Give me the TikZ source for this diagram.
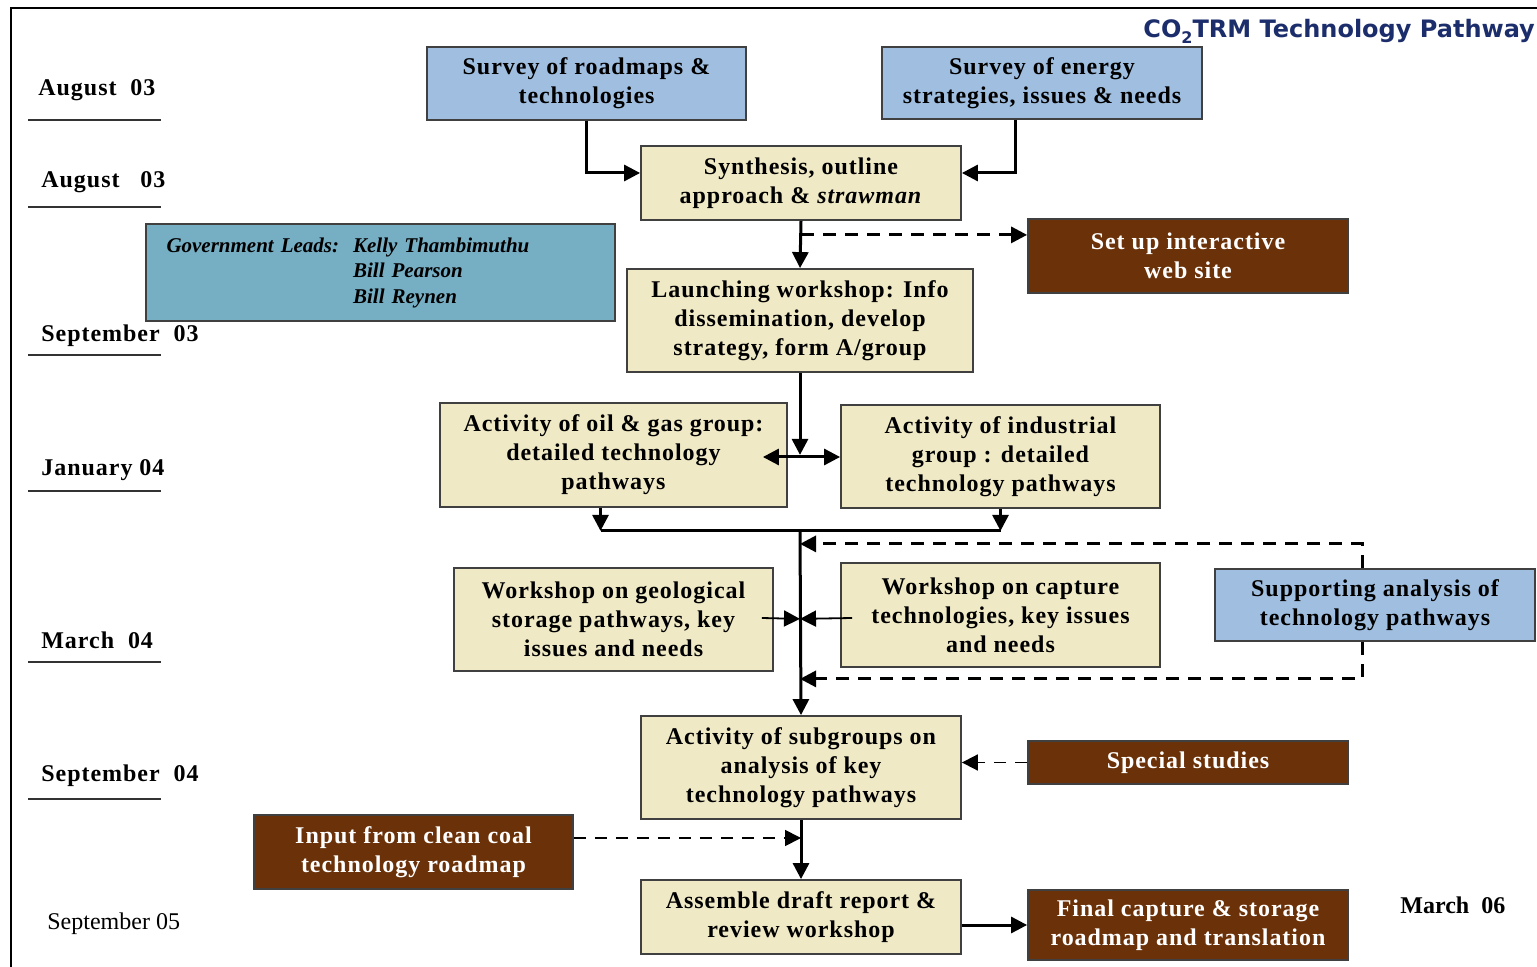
\documentclass[tikz,border=0pt]{standalone}
\usepackage{fontspec}
\setmainfont{Liberation Serif}
\newfontfamily\boxfont{Liberation Serif}[LetterSpace=4]
\newfontfamily\titlefont{DejaVu Sans}
\usetikzlibrary{arrows.meta,calc}
\definecolor{lblue}{HTML}{A0BEE0}
\definecolor{cream}{HTML}{EFE9C6}
\definecolor{brownbox}{HTML}{6B320A}
\definecolor{teal}{HTML}{76AEC4}
\definecolor{navy}{HTML}{1C2D6B}
\tikzset{
  box/.style={draw=black!75, line width=0.9pt, inner sep=2pt, align=center,
    font=\boxfont\bfseries\fontsize{12}{14.5}\selectfont},
  bluebox/.style={box, fill=lblue},
  creambox/.style={box, fill=cream},
  brbox/.style={box, fill=brownbox, text=white},
  conn/.style={line width=1.5pt, -{Triangle[length=8pt,width=8pt]}},
  thinconn/.style={line width=0.9pt, -{Triangle[length=8pt,width=8pt]}},
  dconn/.style={conn, dash pattern=on 6.5pt off 4.5pt},
  dthin/.style={thinconn, dash pattern=on 6pt off 4.5pt},
  datelbl/.style={anchor=base west, inner sep=0pt, font=\boxfont\bfseries\fontsize{12}{14}\selectfont},
  uline/.style={line width=1pt, black!80}
}
\begin{document}
\begin{tikzpicture}[x=0.5pt,y=-0.5pt]
\useasboundingbox (0,0) rectangle (1537,967);
% frame
\draw[line width=1pt] (11,967) -- (11,8) -- (1537,8);
% title
\node[anchor=base west, inner sep=0pt, text=navy, font=\titlefont\bfseries\fontsize{12}{14}\selectfont] (title) at (1143,38)
  {CO\raisebox{-0.4ex}{\fontsize{8}{9}\selectfont 2}TRM Technology Pathway};
% dates
\node[datelbl] (d1) at (38,96) {August\ \ 03};
\draw[uline] (28,120) -- (161,120);
\node[datelbl] (d2) at (41,188) {August\ \ \ 03};
\draw[uline] (28,207) -- (161,207);
\node[datelbl] (d3) at (41,342) {September\ \ 03};
\draw[uline] (28,355) -- (161,355);
\node[datelbl] (d4) at (41,476) {January 04};
\draw[uline] (28,491) -- (161,491);
\node[datelbl] (d5) at (41,649) {March\ \ 04};
\draw[uline] (28,662) -- (161,662);
\node[datelbl] (d6) at (41,781) {September\ \ 04};
\draw[uline] (28,799) -- (161,799);
\node[anchor=base west, inner sep=0pt, font=\fontsize{12}{14}\selectfont] (d7) at (47,929) {September 05};
\node[anchor=base west, inner sep=0pt, font=\bfseries\fontsize{12}{14}\selectfont] (d8) at (1400,913) {March\ \ 06};
% boxes
\node[bluebox, minimum width=159.5pt, minimum height=36.5pt] (sr) at (586.5,83.5) {Survey of roadmaps \&\\technologies};
\node[bluebox, minimum width=160pt, minimum height=36pt] (se) at (1042,83) {Survey of energy\\strategies, issues \& needs};
\node[creambox, minimum width=160pt, minimum height=37pt] (syn) at (801,183) {Synthesis, outline\\approach \& \textit{strawman}};
\node[brbox, minimum width=160pt, minimum height=37pt] (web) at (1188,256) {Set up interactive\\web site};
\node[box, fill=teal, minimum width=234.5pt, minimum height=48.5pt, inner xsep=10pt, text width=214pt, align=left,
  font=\bfseries\itshape\fontsize{10.5}{12.75}\selectfont] (gov) at (380.5,272.5)
  {Government Leads:\ \ Kelly Thambimuthu\\\phantom{Government Leads:\ \ }Bill Pearson\\\phantom{Government Leads:\ \ }Bill Reynen};
\node[creambox, minimum width=173pt, minimum height=51.5pt] (launch) at (800,320.5) {Launching workshop: Info\\dissemination, develop\\strategy, form A/group};
\node[creambox, minimum width=173.5pt, minimum height=52pt] (oil) at (613.5,455) {Activity of oil \& gas group:\\detailed technology\\pathways};
\node[creambox, minimum width=159.5pt, minimum height=51.5pt] (ind) at (1000.5,456.5) {Activity of industrial\\group : detailed\\technology pathways};
\node[creambox, minimum width=159.5pt, minimum height=51.5pt] (geo) at (613.5,619.5) {Workshop on geological\\storage pathways, key\\issues and needs};
\node[creambox, minimum width=159.5pt, minimum height=52pt] (cap) at (1000.5,615) {Workshop on capture\\technologies, key issues\\and needs};
\node[bluebox, minimum width=160pt, minimum height=36pt] (sup) at (1375,605) {Supporting analysis of\\technology pathways};
\node[creambox, minimum width=160pt, minimum height=51.5pt] (sub) at (801,767.5) {Activity of subgroups on\\analysis of key\\technology pathways};
\node[brbox, minimum width=160pt, minimum height=21.5pt] (spec) at (1188,762.5) {Special studies};
\node[brbox, minimum width=159.5pt, minimum height=37pt] (coal) at (413.5,852) {Input from clean coal\\technology roadmap};
\node[creambox, minimum width=160pt, minimum height=37pt] (asm) at (801,917) {Assemble draft report \&\\review workshop};
\node[brbox, minimum width=160pt, minimum height=35pt] (fin) at (1188,925) {Final capture \& storage\\roadmap and translation};
% connectors
\draw[conn] (sr.south) |- ($(syn.west)+(0,-10)$);
\draw[conn] ($(se.south)+(-27,0)$) |- ($(syn.east)+(0,-10)$);
\draw[conn] (syn.south) -- (launch.north);
\coordinate (wd) at ($(syn.south)+(0,14)$);
\draw[dconn] (wd) -- (wd -| web.west);
\draw[conn] (launch.south) -- ($(launch.south)+(0,82)$);
\coordinate (oilin) at ($(oil.east)+(-25,2)$);
\coordinate (indin) at ($(ind.west)+(0,0.5)$);
\draw[line width=1.5pt, {Triangle[length=8pt,width=8pt]}-{Triangle[length=8pt,width=8pt]}] (oilin) -- (indin);
\coordinate (bus) at ($(launch.south)+(0,158)$);
\draw[conn] ($(oil.south)+(-13,0)$) -- ($(oil.south)+(-13,23)$);
\draw[conn] (ind.south) -- ($(ind.south)+(0,22)$);
\draw[line width=1.5pt] ($(oil.south)+(-13,23)$) -- ($(ind.south)+(0,22)$);
\draw[conn] (bus) -- (sub.north);
\coordinate (j1) at ($(bus)+(0,13)$);
\coordinate (j2) at ($(bus)+(0,148)$);
\draw[dconn] ($(sup.north)+(-13,0)$) |- (j1);
\draw[dconn] ($(sup.south)+(-13,0)$) |- (j2);
\coordinate (gs) at ($(geo.east)+(-12,-1.5)$);
\coordinate (cs) at ($(cap.west)+(12,3)$);
\coordinate (jg) at ($(bus)+(0,88)$);
\draw[thinconn] (gs) -- (jg);
\draw[thinconn] (cs) -- (jg);
\draw[dthin] (spec.west) -- (spec.west -| sub.east);
\draw[conn] (sub.south) -- (asm.north);
\coordinate (cc) at ($(coal.east)+(0,-14)$);
\draw[dthin] (cc) -- (cc -| sub.south);
\draw[conn] (asm.east |- fin.west) -- (fin.west);
\end{tikzpicture}
\end{document}
